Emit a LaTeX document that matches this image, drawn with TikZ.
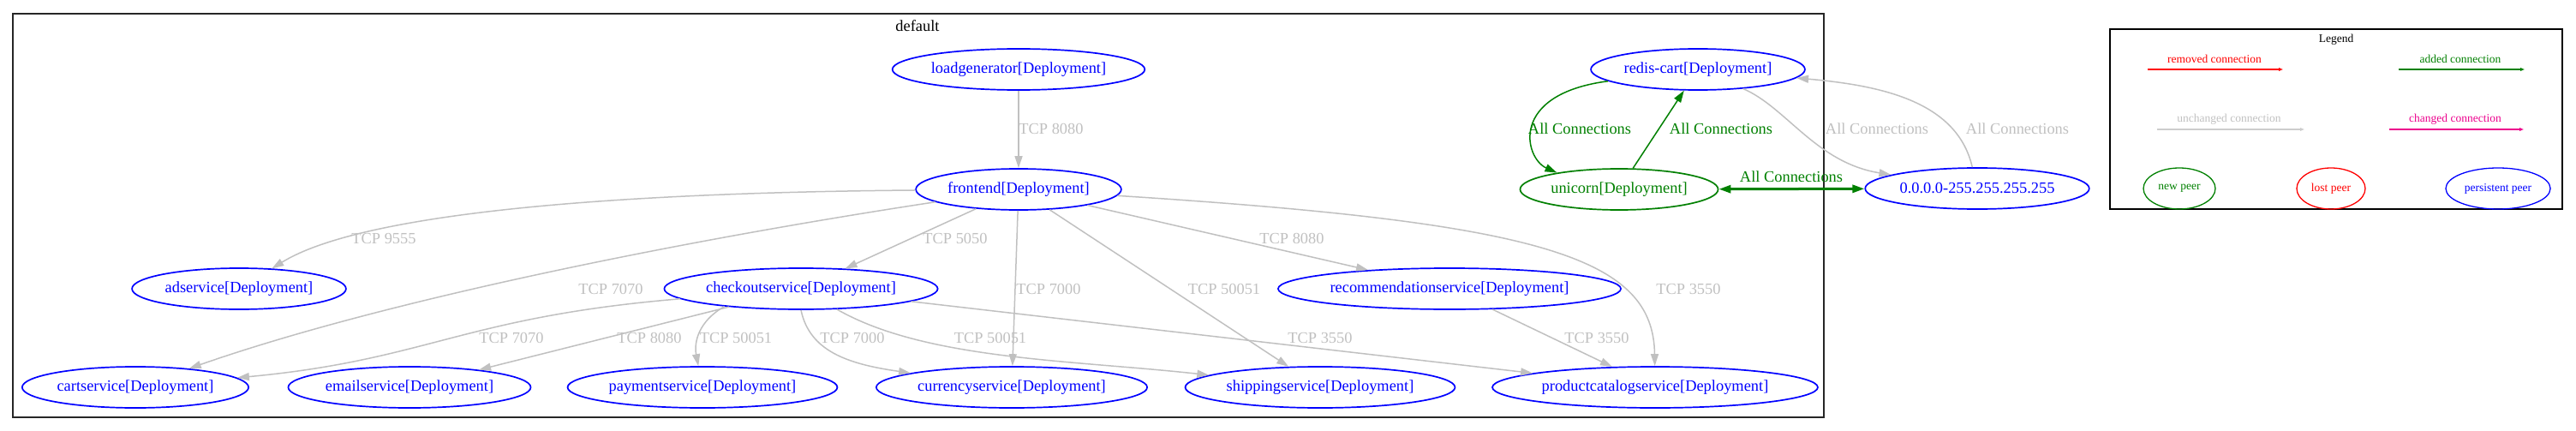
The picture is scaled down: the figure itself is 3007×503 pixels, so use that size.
\documentclass[tikz,border=0pt]{standalone}
\usepackage{fontspec}
\setmainfont{Liberation Serif}
\usetikzlibrary{arrows.meta,shapes.geometric}

\definecolor{unchgray}{RGB}{192,192,192}
\definecolor{addgreen}{RGB}{0,128,0}

\newcommand*{\bigfont}{\fontsize{18.4}{22}\selectfont}
\newcommand*{\smallfont}{\fontsize{13.5}{16}\selectfont}

\begin{document}
\begin{tikzpicture}
[
	x=1pt,
	y=-1pt,
	peer/.style={ellipse,draw,line width=1.7pt,inner xsep=2pt,inner ysep=3pt,minimum height=48pt,font=\bigfont},
	persist/.style={peer,draw=blue,text=blue},
	newpeer/.style={peer,draw=addgreen,text=addgreen},
	unch/.style={draw=unchgray,line width=1.5pt,-{Triangle[length=14pt,width=9pt]}},
	added/.style={draw=addgreen,line width=1.5pt,-{Triangle[length=14pt,width=9pt]}},
	lbl/.style={font=\bigfont,text=unchgray,inner sep=0pt},
	addlbl/.style={font=\bigfont,text=addgreen,inner sep=0pt},
	legtext/.style={font=\smallfont,inner sep=0pt},
	legpeer/.style={ellipse,draw,line width=1.3pt,inner xsep=4pt,minimum height=48pt,font=\smallfont},
	legarrow/.style={line width=1.5pt,-{Triangle[length=5pt,width=3.5pt]}}
]

	\useasboundingbox (0,0) rectangle (3007,503);

	% namespace box
	\draw[black!85,line width=1.6pt] (15,16) rectangle (2129,487);
	\node[font=\bigfont,inner sep=0pt] (ns) at (1071,30) {default};

	% peers
	\node[persist] (lg) at (1189,81) {loadgenerator[Deployment]};
	\node[persist] (fe) at (1189,221) {frontend[Deployment]};
	\node[persist] (ad) at (279,337) {adservice[Deployment]};
	\node[persist] (co) at (935,337) {checkoutservice[Deployment]};
	\node[persist] (rec) at (1692,337) {recommendationservice[Deployment]};
	\node[persist] (cart) at (158,452) {cartservice[Deployment]};
	\node[persist] (em) at (478,452) {emailservice[Deployment]};
	\node[persist] (pay) at (820,452) {paymentservice[Deployment]};
	\node[persist] (cu) at (1181,452) {currencyservice[Deployment]};
	\node[persist] (sh) at (1541,452) {shippingservice[Deployment]};
	\node[persist] (pc) at (1932,452) {productcatalogservice[Deployment]};
	\node[persist] (redis) at (1982,81) {redis-cart[Deployment]};
	\node[newpeer] (uni) at (1890,221) {unicorn[Deployment]};
	\node[persist] (ip) at (2308,220) {0.0.0.0-255.255.255.255};

	% unchanged connections
	\draw[unch] (lg) -- (fe);
	\draw[unch] (fe) .. controls (700,225) and (420,250) .. (ad);
	\draw[unch] (fe) .. controls (800,280) and (450,350) .. (cart);
	\draw[unch] (fe) -- (co);
	\draw[unch] (fe) -- (cu);
	\draw[unch] (fe) -- (sh);
	\draw[unch] (fe) -- (rec);
	\draw[unch] (fe) .. controls (1800,260) and (1930,300) .. (pc);
	\draw[unch] (co) .. controls (540,370) and (500,420) .. (cart);
	\draw[unch] (co) -- (em);
	\draw[unch] (co.193) .. controls (815,375) and (810,400) .. (pay);
	\draw[unch] (co.south) .. controls (945,410) and (990,425) .. (cu);
	\draw[unch] (co) .. controls (1080,420) and (1250,420) .. (sh);
	\draw[unch] (co) -- (pc);
	\draw[unch] (rec) -- (pc);
	\draw[unch] (redis) .. controls (2085,125) and (2120,190) .. (ip);
	\draw[unch] (ip) .. controls (2285,120) and (2200,100) .. (redis);

	% added connections
	\draw[added] (redis) .. controls (1760,110) and (1780,185) .. (uni.165);
	\draw[added] (uni) -- (redis);
	\draw[added,line width=3pt,{Triangle[length=14pt,width=9pt]}-{Triangle[length=14pt,width=9pt]}] (uni) -- (ip);

	% connection labels
	\node[lbl] (l1) at (1227,150) {TCP 8080};
	\node[lbl] (l2) at (448,278) {TCP 9555};
	\node[lbl] (l3) at (1115,278) {TCP 5050};
	\node[lbl] (l4) at (1508,278) {TCP 8080};
	\node[lbl] (l5) at (713,337) {TCP 7070};
	\node[lbl] (l6) at (1224,337) {TCP 7000};
	\node[lbl] (l7) at (1429,337) {TCP 50051};
	\node[lbl] (l8) at (1971,337) {TCP 3550};
	\node[lbl] (l9) at (597,394) {TCP 7070};
	\node[lbl] (l10) at (758,394) {TCP 8080};
	\node[lbl] (l11) at (859,394) {TCP 50051};
	\node[lbl] (l12) at (995,394) {TCP 7000};
	\node[lbl] (l13) at (1156,394) {TCP 50051};
	\node[lbl] (l14) at (1541,394) {TCP 3550};
	\node[lbl] (l15) at (1864,394) {TCP 3550};
	\node[lbl] (l16) at (2191,150) {All Connections};
	\node[lbl] (l17) at (2355,150) {All Connections};
	\node[addlbl] (l18) at (1844,150) {All Connections};
	\node[addlbl] (l19) at (2009,150) {All Connections};
	\node[addlbl] (l20) at (2091,206) {All Connections};

	% legend
	\draw[black,line width=1.3pt] (2463,34) rectangle (2991,244);
	\node[legtext] (leg) at (2727,46) {Legend};
	\node[legtext,text=red] (rmtxt) at (2585,69) {removed connection};
	\node[legtext,text=addgreen] (adtxt) at (2872,69) {added connection};
	\node[legtext,text=unchgray] (untxt) at (2602,139) {unchanged connection};
	\node[legtext,text=magenta] (chtxt) at (2866,139) {changed connection};
	\coordinate (rm1) at (2507,81);
	\coordinate (rm2) at (2665,81);
	\coordinate (ad1) at (2800,81);
	\coordinate (ad2) at (2947,81);
	\coordinate (un1) at (2518,151);
	\coordinate (un2) at (2690,151);
	\coordinate (ch1) at (2789,151);
	\coordinate (ch2) at (2946,151);
	\draw[legarrow,red] (rm1) -- (rm2);
	\draw[legarrow,addgreen] (ad1) -- (ad2);
	\draw[legarrow,unchgray!80] (un1) -- (un2);
	\draw[legarrow,magenta] (ch1) -- (ch2);
	\node[legpeer,draw=addgreen,text=addgreen,minimum width=84pt] (lnew) at (2544,220) {new peer};
	\node[legpeer,draw=red,text=red,minimum width=80pt] (llost) at (2721,220) {lost peer};
	\node[legpeer,draw=blue,text=blue] (lpers) at (2916,220) {persistent peer};

\end{tikzpicture}
\end{document}
